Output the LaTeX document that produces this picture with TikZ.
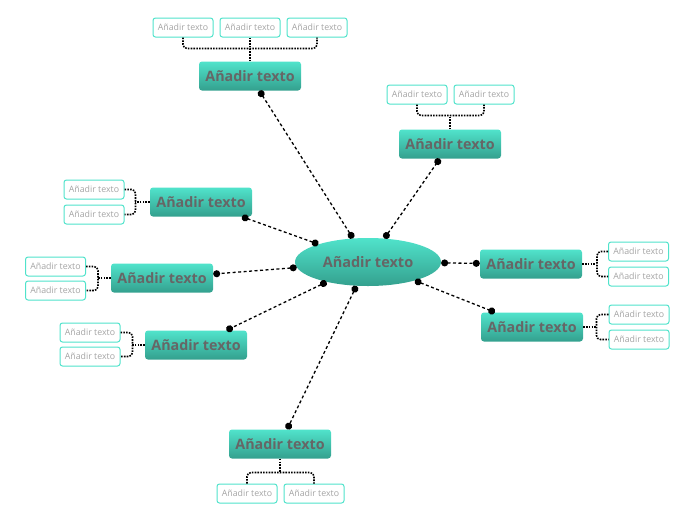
\documentclass[tikz,border=0pt]{standalone}
\usepackage{fontspec}
\setmainfont{Open Sans}
\usetikzlibrary{arrows.meta,shapes.geometric}
\definecolor{tealtop}{HTML}{50E3CB}
\definecolor{tealbot}{HTML}{34A08E}
\definecolor{txtgray}{HTML}{666666}
\definecolor{leafgray}{HTML}{A5A5A5}
\begin{document}
\begin{tikzpicture}[x=1pt, y=-1pt, main/.style={ellipse, top color=tealtop, bottom color=tealbot, minimum width=146pt, minimum height=48pt, inner sep=0pt, text=txtgray, font=\bfseries\fontsize{14.5}{16}\selectfont}, sub/.style={rectangle, rounded corners=3pt, top color=tealtop, bottom color=tealbot, minimum width=102pt, minimum height=29pt, inner sep=0pt, text=txtgray, font=\bfseries\fontsize{14.3}{16}\selectfont}, info/.style={rectangle, rounded corners=2.5pt, draw=tealtop, line width=1pt, fill=white, minimum width=60pt, minimum height=19pt, inner sep=0pt, text=leafgray, font=\fontsize{8.8}{10}\selectfont}, con/.style={{Circle[length=7pt]}-{Circle[length=7pt]}, line width=1.3pt, dash pattern=on 3pt off 2.5pt}, brk/.style={line width=1.6pt, dash pattern=on 1.6pt off 1.2pt, rounded corners=4pt}]
            \useasboundingbox (0,0) rectangle (696,520);
            % central topic
            \node[main] (c) at (368,262) {Añadir texto};
            % main topics
            \node[sub] (s1) at (250,76) {Añadir texto};
            \node[sub] (s2) at (450,144) {Añadir texto};
            \node[sub] (s3) at (201,202) {Añadir texto};
            \node[sub] (s4) at (162,278) {Añadir texto};
            \node[sub] (s5) at (196,345) {Añadir texto};
            \node[sub] (s6) at (531,264) {Añadir texto};
            \node[sub] (s7) at (532,327) {Añadir texto};
            \node[sub] (s8) at (280,444) {Añadir texto};
            % subtopics
            \node[info] (i11) at (183,27.5) {Añadir texto};
            \node[info] (i12) at (250,27.5) {Añadir texto};
            \node[info] (i13) at (317,27.5) {Añadir texto};
            \node[info] (i21) at (417,94.5) {Añadir texto};
            \node[info] (i22) at (484,94.5) {Añadir texto};
            \node[info] (i31) at (94,189.5) {Añadir texto};
            \node[info] (i32) at (94,214.5) {Añadir texto};
            \node[info] (i41) at (55.5,266.5) {Añadir texto};
            \node[info] (i42) at (55.5,290.5) {Añadir texto};
            \node[info] (i51) at (90,332.5) {Añadir texto};
            \node[info] (i52) at (90,356.5) {Añadir texto};
            \node[info] (i61) at (638.5,251.5) {Añadir texto};
            \node[info] (i62) at (638.5,276.5) {Añadir texto};
            \node[info] (i71) at (639,314.5) {Añadir texto};
            \node[info] (i72) at (639,339.5) {Añadir texto};
            \node[info] (i81) at (247,493.5) {Añadir texto};
            \node[info] (i82) at (314,493.5) {Añadir texto};
            % edges
            \foreach \t in {s1,s2,s3,s4,s5,s6,s7,s8}
                \draw[con] (c) -- (\t);
            \draw[brk] (i11.south) -- ++(0,11) -| (i13.south);
            \draw[brk] (s1.north) -- (i12.south);
            \draw[brk] (i21.south) -- ++(0,11) -| (i22.south);
            \draw[brk] (s2.north) -- ++(0,-14);
            \draw[brk] (i31.east) -- ++(11,0) |- (i32.east);
            \draw[brk] (s3.west) -- ++(-15,0);
            \draw[brk] (i41.east) -- ++(12,0) |- (i42.east);
            \draw[brk] (s4.west) -- ++(-13,0);
            \draw[brk] (i51.east) -- ++(12,0) |- (i52.east);
            \draw[brk] (s5.west) -- ++(-13,0);
            \draw[brk] (i61.west) -- ++(-11,0) |- (i62.west);
            \draw[brk] (s6.east) -- ++(14,0);
            \draw[brk] (i71.west) -- ++(-12,0) |- (i72.west);
            \draw[brk] (s7.east) -- ++(13,0);
            \draw[brk] (i81.north) -- ++(0,-11) -| (i82.north);
            \draw[brk] (s8.south) -- ++(0,14);
        \end{tikzpicture}
\end{document}
